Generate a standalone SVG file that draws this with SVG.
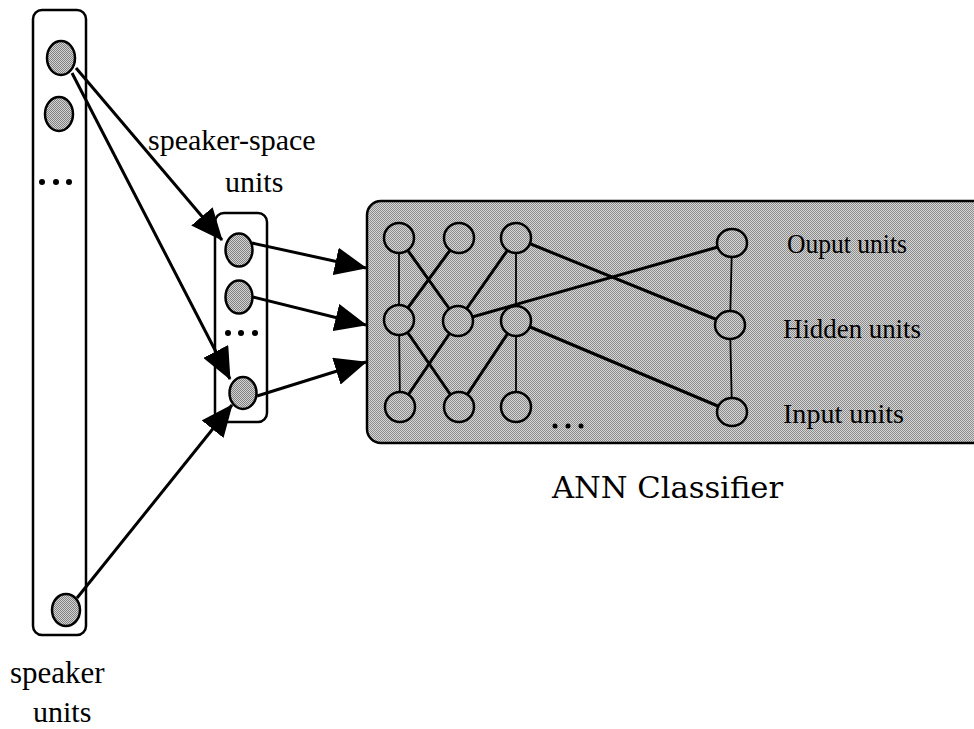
<svg xmlns="http://www.w3.org/2000/svg" width="974" height="729" viewBox="0 0 974 729">
  <defs>
    <!-- 1px checker dither used for the grey fills -->
    <pattern id="dither" width="2" height="2" patternUnits="userSpaceOnUse">
      <rect width="2" height="2" fill="#d6d6d6"/>
      <rect width="1" height="1" fill="#8c8c8c"/>
      <rect x="1" y="1" width="1" height="1" fill="#8c8c8c"/>
    </pattern>
    <pattern id="ditherDark" width="2" height="2" patternUnits="userSpaceOnUse">
      <rect width="2" height="2" fill="#d4d4d4"/>
      <rect width="1" height="1" fill="#808080"/>
      <rect x="1" y="1" width="1" height="1" fill="#808080"/>
    </pattern>
    <marker id="head" viewBox="0 0 32 28" refX="31" refY="14" markerWidth="32" markerHeight="28" markerUnits="userSpaceOnUse" orient="auto">
      <path d="M0,0 L32,14 L0,28 z" fill="#000"/>
    </marker>
  </defs>
  <style>
    .box { fill: #fff; stroke: #000; stroke-width: 2.5; }
    .unit { fill: url(#ditherDark); stroke: #000; stroke-width: 2.5; }
    .neuron { fill: url(#dither); stroke: #000; stroke-width: 2.5; }
    .arrow { stroke: #000; stroke-width: 3; fill: none; marker-end: url(#head); }
    .thin { stroke: #000; stroke-width: 1.8; }
    .thick { stroke: #000; stroke-width: 3; }
    .serif { font-family: "Liberation Serif", "Times New Roman", serif; fill: #000; }
    .title { font-family: "DejaVu Serif", serif; font-size: 29px; fill: #000; }
  </style>

  <rect width="974" height="729" fill="#fff"/>

  <!-- speaker units column -->
  <g id="speaker-units">
    <rect class="box" x="33" y="10" width="53" height="625" rx="9"/>
    <ellipse class="unit" cx="61" cy="58" rx="14" ry="17"/>
    <ellipse class="unit" cx="59" cy="114" rx="14" ry="17"/>
    <circle cx="42" cy="182" r="3"/>
    <circle cx="56" cy="182" r="3"/>
    <circle cx="69" cy="182" r="3"/>
    <ellipse class="unit" cx="66" cy="610" rx="14" ry="16"/>
    <text class="serif" x="10" y="683" font-size="31">speaker</text>
    <text class="serif" x="33" y="722" font-size="30">units</text>
  </g>

  <!-- speaker-space units column -->
  <g id="speaker-space-units">
    <rect class="box" x="215" y="213" width="52" height="209" rx="9"/>
    <ellipse class="unit" cx="239" cy="250" rx="13.5" ry="16.5"/>
    <ellipse class="unit" cx="239" cy="297" rx="13.5" ry="16.5"/>
    <circle cx="228" cy="333" r="3"/>
    <circle cx="241" cy="333" r="3"/>
    <circle cx="255" cy="333" r="3"/>
    <ellipse class="unit" cx="243" cy="393" rx="13.5" ry="16"/>
    <text class="serif" x="148" y="150" font-size="30">speaker-space</text>
    <text class="serif" x="225" y="192" font-size="30">units</text>
  </g>

  <!-- ANN classifier block -->
  <g id="ann-classifier">
    <rect x="367" y="201" width="640" height="242" rx="14" fill="url(#dither)" stroke="#000" stroke-width="2.5"/>
    <g id="ann-links">
      <line class="thin" x1="399" y1="238" x2="399" y2="320"/>
      <line class="thick" x1="399" y1="238" x2="458" y2="321"/>
      <line class="thick" x1="459" y1="238" x2="399" y2="320"/>
      <line class="thick" x1="516" y1="238" x2="458" y2="321"/>
      <line class="thin" x1="516" y1="238" x2="516" y2="321"/>
      <line class="thick" x1="516" y1="238" x2="730" y2="325"/>
      <line class="thick" x1="458" y1="321" x2="732" y2="243"/>
      <line class="thin" x1="399" y1="320" x2="400" y2="407"/>
      <line class="thick" x1="399" y1="320" x2="459" y2="407"/>
      <line class="thick" x1="458" y1="321" x2="400" y2="407"/>
      <line class="thick" x1="516" y1="321" x2="459" y2="407"/>
      <line class="thin" x1="516" y1="321" x2="516" y2="407"/>
      <line class="thick" x1="516" y1="321" x2="732" y2="412"/>
      <line class="thin" x1="732" y1="243" x2="730" y2="325"/>
      <line class="thin" x1="730" y1="325" x2="732" y2="412"/>
    </g>
    <circle class="neuron" cx="399" cy="238" r="15"/>
    <circle class="neuron" cx="459" cy="238" r="15"/>
    <circle class="neuron" cx="516" cy="238" r="15"/>
    <circle class="neuron" cx="399" cy="320" r="15"/>
    <circle class="neuron" cx="458" cy="321" r="15"/>
    <circle class="neuron" cx="516" cy="321" r="15"/>
    <circle class="neuron" cx="400" cy="407" r="15"/>
    <circle class="neuron" cx="459" cy="407" r="15"/>
    <circle class="neuron" cx="516" cy="407" r="15"/>
    <ellipse class="neuron" cx="732" cy="243" rx="15" ry="14"/>
    <ellipse class="neuron" cx="730" cy="325" rx="15" ry="14"/>
    <ellipse class="neuron" cx="732" cy="412" rx="15" ry="14"/>
    <circle cx="555" cy="426" r="2.5"/>
    <circle cx="568" cy="426" r="2.5"/>
    <circle cx="581" cy="426" r="2.5"/>
    <text class="serif" x="787" y="253" font-size="28" textLength="120" lengthAdjust="spacingAndGlyphs">Ouput units</text>
    <text class="serif" x="783" y="338" font-size="28" textLength="138" lengthAdjust="spacingAndGlyphs">Hidden units</text>
    <text class="serif" x="783" y="423" font-size="28" textLength="121" lengthAdjust="spacingAndGlyphs">Input units</text>
    <text class="title" x="552" y="498" textLength="231" lengthAdjust="spacingAndGlyphs">ANN Classifier</text>
  </g>

  <!-- connectors -->
  <g id="connectors">
    <line class="arrow" x1="76" y1="68" x2="222" y2="240"/>
    <line class="arrow" x1="72" y1="73" x2="230" y2="379"/>
    <line class="arrow" x1="77" y1="598" x2="232" y2="405"/>
    <line class="arrow" x1="252" y1="243" x2="366" y2="268"/>
    <line class="arrow" x1="253" y1="297" x2="366" y2="325"/>
    <line class="arrow" x1="257" y1="396" x2="366" y2="362"/>
  </g>
</svg>
